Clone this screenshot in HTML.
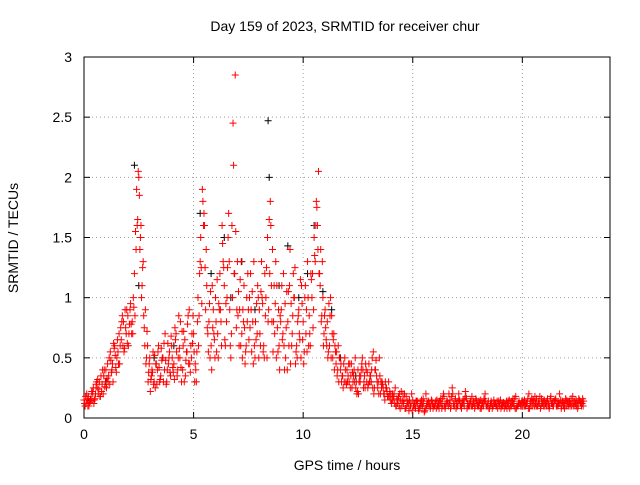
<!DOCTYPE html>
<html><head><meta charset="utf-8"><style>
body{margin:0;background:#fff;}
svg text{font-family:"Liberation Sans",sans-serif;font-size:14px;fill:#000;}
</style></head><body>
<svg id="chart" width="640" height="480">
<g id="grid"></g>
<g id="axes"></g>
<g id="marks"></g>
<text x="345" y="31" text-anchor="middle">Day 159 of 2023, SRMTID for receiver chur</text>
<text x="347" y="470" text-anchor="middle">GPS time / hours</text>
<text transform="translate(18,238) rotate(-90)" text-anchor="middle">SRMTID / TECUs</text>
</svg>
<script>
const xTicks=[0,5,10,15,20];
const yTicks=[0,0.5,1,1.5,2,2.5,3];
const yTickLabels=["0","0.5","1","1.5","2","2.5","3"];
const seriesAStart=0, seriesAStep=0.1;
const seriesA=[0.15,0.12,0.18,0.14,0.2,0.16,0.25,0.3,0.22,0.35,
0.4,0.3,0.55,0.45,0.6,0.5,0.7,0.65,0.8,0.75,
0.85,0.9,0.8,1.2,1.9,2.0,1.6,1.3,0.9,0.6,
0.5,0.4,0.3,0.45,0.6,0.35,0.5,0.7,0.4,0.55,
0.6,0.45,0.7,0.5,0.8,0.4,0.65,0.55,0.9,0.5,
0.7,0.4,1.0,1.3,1.9,1.6,1.1,0.8,0.6,0.9,
1.0,0.7,1.2,1.6,1.1,0.8,1.7,0.5,2.45,2.85,
1.3,0.9,0.7,1.1,0.6,0.9,1.2,0.8,0.5,0.7,
0.9,1.3,0.6,1.0,0.8,1.8,1.4,0.7,1.1,0.6,
0.9,1.2,0.5,0.8,1.4,0.7,1.0,0.6,0.9,0.5,
0.8,1.1,1.3,0.7,1.0,1.5,1.8,2.05,1.4,1.0,
0.9,0.8,0.6,0.85,0.7,0.45,0.6,0.4,0.35,0.5,
0.4,0.3,0.45,0.35,0.25,0.4,0.3,0.5,0.35,0.3,
0.45,0.3,0.55,0.4,0.25,0.35,0.3,0.2,0.25,0.3,
0.2,0.15,0.25,0.12,0.2,0.1,0.15,0.18,0.12,0.1,
0.15,0.1,0.12,0.08,0.15,0.12,0.2,0.1,0.08,0.12,
0.1,0.15,0.08,0.12,0.2,0.1,0.12,0.15,0.25,0.1,
0.12,0.2,0.1,0.15,0.22,0.12,0.1,0.18,0.12,0.15,
0.1,0.15,0.12,0.2,0.1,0.08,0.12,0.15,0.1,0.12,
0.15,0.1,0.12,0.08,0.15,0.1,0.12,0.18,0.1,0.12,
0.1,0.15,0.12,0.2,0.1,0.15,0.12,0.1,0.18,0.12,
0.15,0.1,0.12,0.18,0.1,0.15,0.12,0.2,0.1,0.12,
0.15,0.1,0.12,0.18,0.1,0.12,0.15,0.1,0.14];
const seriesBStart=0.05, seriesBStep=0.1;
const seriesB=[0.1,0.16,0.13,0.22,0.12,0.28,0.2,0.18,0.4,0.26,
0.33,0.5,0.38,0.62,0.42,0.55,0.6,0.85,0.58,0.9,
0.7,0.78,1.0,1.55,1.65,1.4,1.1,0.75,0.5,0.38,
0.32,0.55,0.25,0.4,0.3,0.48,0.62,0.28,0.45,0.35,
0.42,0.75,0.35,0.58,0.3,0.72,0.48,0.85,0.38,0.62,
0.3,0.55,0.85,1.25,1.6,0.9,0.7,0.5,1.1,0.65,
0.55,0.95,0.8,1.3,0.6,1.25,0.9,1.6,1.2,0.75,
1.05,0.6,0.9,0.45,0.8,1.0,0.55,1.3,0.65,1.0,
0.6,0.95,1.2,0.5,1.65,1.1,0.8,1.3,0.55,0.85,
0.65,0.4,1.05,0.6,0.95,1.2,0.45,0.8,0.65,0.95,
0.55,0.9,0.6,1.2,0.75,1.3,1.6,1.2,0.85,0.7,
0.65,0.55,1.0,0.5,0.6,0.35,0.5,0.3,0.45,0.3,
0.35,0.25,0.38,0.3,0.2,0.3,0.4,0.25,0.45,0.25,
0.35,0.5,0.25,0.35,0.2,0.3,0.25,0.3,0.18,0.22,
0.15,0.2,0.1,0.18,0.15,0.2,0.08,0.12,0.15,0.2,
0.1,0.14,0.08,0.12,0.1,0.06,0.14,0.12,0.15,0.1,
0.14,0.1,0.12,0.16,0.1,0.14,0.2,0.1,0.12,0.16,
0.1,0.14,0.12,0.1,0.16,0.1,0.14,0.12,0.1,0.1,
0.13,0.1,0.16,0.1,0.14,0.12,0.1,0.12,0.14,0.1,
0.1,0.13,0.1,0.14,0.1,0.12,0.16,0.1,0.14,0.1,
0.13,0.1,0.16,0.12,0.14,0.1,0.16,0.12,0.1,0.14,
0.12,0.16,0.1,0.12,0.14,0.1,0.12,0.15,0.13,0.1,
0.12,0.14,0.1,0.12,0.15,0.1,0.13,0.16];
const seriesCStart=0.025, seriesCStep=0.1;
const seriesC=[0.12,0.2,0.1,0.16,0.25,0.2,0.32,0.18,0.28,0.4,
0.25,0.35,0.48,0.3,0.52,0.65,0.45,0.8,0.55,0.7,
0.6,0.95,0.7,0.85,1.6,1.85,1.0,0.85,0.45,0.3,
0.22,0.38,0.52,0.28,0.42,0.58,0.3,0.48,0.62,0.38,
0.5,0.32,0.55,0.85,0.42,0.6,0.35,0.78,0.45,0.7,
0.55,0.3,0.6,1.5,1.8,1.25,0.75,0.95,0.4,0.7,
0.8,0.5,0.9,1.45,0.65,1.0,1.3,0.7,2.1,1.55,
0.85,1.15,0.5,0.75,1.0,0.65,0.9,0.45,0.8,1.1,
0.7,1.0,0.5,1.25,0.9,1.6,0.55,0.95,0.75,0.4,
1.1,0.6,0.75,1.05,0.45,0.85,1.25,0.5,0.7,1.1,
0.45,0.7,1.0,0.6,1.2,1.35,1.75,1.2,0.8,0.6,
0.75,0.5,0.85,0.7,0.4,0.55,0.3,0.45,0.25,0.4,
0.3,0.45,0.25,0.4,0.3,0.2,0.35,0.4,0.25,0.38,
0.3,0.4,0.2,0.48,0.3,0.2,0.28,0.15,0.22,0.18,
0.12,0.18,0.1,0.15,0.08,0.14,0.2,0.1,0.06,0.12,
0.1,0.08,0.14,0.1,0.12,0.05,0.1,0.14,0.1,0.08,
0.12,0.1,0.14,0.08,0.18,0.12,0.1,0.08,0.2,0.14,
0.1,0.15,0.08,0.12,0.18,0.1,0.14,0.1,0.08,0.12,
0.14,0.08,0.1,0.14,0.12,0.1,0.08,0.12,0.1,0.14,
0.08,0.12,0.1,0.12,0.08,0.14,0.1,0.08,0.12,0.1,
0.14,0.1,0.12,0.08,0.16,0.12,0.1,0.14,0.08,0.12,
0.1,0.14,0.08,0.12,0.1,0.16,0.1,0.12,0.14,0.08,
0.1,0.12,0.16,0.1,0.12,0.08,0.14,0.12];
const seriesDStart=0.075, seriesDStep=0.1;
const seriesD=[0.18,0.1,0.14,0.22,0.15,0.3,0.24,0.35,0.2,0.3,
0.45,0.28,0.4,0.58,0.38,0.45,0.75,0.6,0.9,0.62,
0.78,0.7,0.92,1.4,2.05,1.5,1.25,0.6,0.72,0.45,
0.35,0.28,0.45,0.55,0.32,0.5,0.4,0.3,0.5,0.68,
0.38,0.65,0.4,0.5,0.72,0.3,0.55,0.45,0.6,0.85,
0.45,0.8,1.2,0.95,1.7,1.4,0.55,1.05,0.75,0.5,
1.15,0.9,0.6,1.25,0.95,1.5,0.6,1.0,1.2,0.9,
0.6,1.3,0.8,0.55,1.2,0.75,1.05,0.6,0.95,0.5,
1.05,0.55,0.85,1.5,1.2,0.8,1.1,0.5,0.9,0.8,
0.7,0.95,0.4,1.1,0.6,1.0,0.55,0.85,1.15,0.65,
1.0,0.55,0.85,1.15,0.9,1.6,1.4,1.1,1.3,0.85,
0.6,0.95,0.5,0.65,0.55,0.4,0.5,0.35,0.3,0.28,
0.45,0.35,0.3,0.5,0.22,0.35,0.45,0.3,0.4,0.28,
0.35,0.25,0.4,0.3,0.5,0.25,0.2,0.25,0.18,0.15,
0.2,0.12,0.16,0.1,0.22,0.12,0.08,0.14,0.1,0.06,
0.12,0.14,0.06,0.1,0.16,0.08,0.12,0.1,0.14,0.1,
0.08,0.12,0.16,0.1,0.08,0.14,0.12,0.18,0.1,0.08,
0.14,0.1,0.12,0.16,0.08,0.12,0.1,0.14,0.16,0.1,
0.08,0.12,0.14,0.1,0.08,0.14,0.1,0.12,0.08,0.12,
0.12,0.08,0.14,0.1,0.12,0.16,0.08,0.1,0.12,0.14,
0.1,0.12,0.08,0.14,0.1,0.18,0.1,0.12,0.16,0.1,
0.12,0.1,0.16,0.12,0.14,0.1,0.12,0.08,0.1,0.16,
0.14,0.1,0.12,0.14,0.1,0.16,0.12,0.1];
const blackTimes=[0.3,1.0,2.3,2.5,3.2,4.1,5.3,5.8,6.4,6.7,7.2,7.8,8.4,8.45,8.9,9.3,9.8,10.2,10.5,10.9,11.3,11.7,12.4,13.1];
const blackValues=[0.15,0.3,2.1,1.1,0.5,0.6,1.7,1.2,1.5,1.0,1.3,0.9,2.47,2.0,1.1,1.43,1.0,1.2,1.6,1.05,0.9,0.5,0.35,0.3];
const X0=84,X1=610,Y0=418,Y1=57;
const xs=v=>X0+v/24*(X1-X0);
const ys=v=>Y0-v/3*(Y0-Y1);
const NS="http://www.w3.org/2000/svg";
function mk(tag,attrs,parent){const e=document.createElementNS(NS,tag);for(const k in attrs)e.setAttribute(k,attrs[k]);parent.appendChild(e);return e;}
const grid=document.getElementById('grid'),axes=document.getElementById('axes'),marks=document.getElementById('marks');
xTicks.forEach(t=>{
 const x=xs(t);
 if(t>0){const g=mk('line',{x1:x,x2:x,y1:Y0,y2:Y1,stroke:'#a0a0a0','stroke-dasharray':'1,3'},grid);
 
 }
 mk('line',{x1:x,x2:x,y1:Y0,y2:Y0-6,stroke:'#000'},axes);
 mk('line',{x1:x,x2:x,y1:Y1,y2:Y1+6,stroke:'#000'},axes);
 const l=mk('text',{x:x,y:Y0+21,'text-anchor':'middle'},axes);l.textContent=String(t);
 
 
});
yTicks.forEach((t,i)=>{
 const y=ys(t);
 if(t>0&&t<3){const g=mk('line',{x1:X0,x2:X1,y1:y,y2:y,stroke:'#a0a0a0','stroke-dasharray':'1,3'},grid);
 
 }
 mk('line',{x1:X0,x2:X0+6,y1:y,y2:y,stroke:'#000'},axes);
 mk('line',{x1:X1,x2:X1-6,y1:y,y2:y,stroke:'#000'},axes);
 const l=mk('text',{x:X0-12,y:y+5,'text-anchor':'end'},axes);l.textContent=yTickLabels[i];
 
 
});
mk('rect',{x:X0,y:Y1,width:X1-X0,height:Y0-Y1,fill:'none',stroke:'#000'},axes);
function plus(t,v,col,name){
 const x=xs(t),y=ys(v);
 const p=mk('path',{d:`M${x-3.5},${y}h7M${x},${y-3.5}v7`,stroke:col,'stroke-width':1,fill:'none'},marks);
 
 
}
blackTimes.forEach((t,i)=>plus(t,blackValues[i],'#000','black-point'));
seriesA.forEach((v,i)=>plus(seriesAStart+i*seriesAStep,v,'#ff0000','red-point'));
seriesB.forEach((v,i)=>plus(seriesBStart+i*seriesBStep,v,'#ff0000','red-point'));
seriesC.forEach((v,i)=>plus(seriesCStart+i*seriesCStep,v,'#ff0000','red-point'));
seriesD.forEach((v,i)=>plus(seriesDStart+i*seriesDStep,v,'#ff0000','red-point'));
</script>
</body></html>
